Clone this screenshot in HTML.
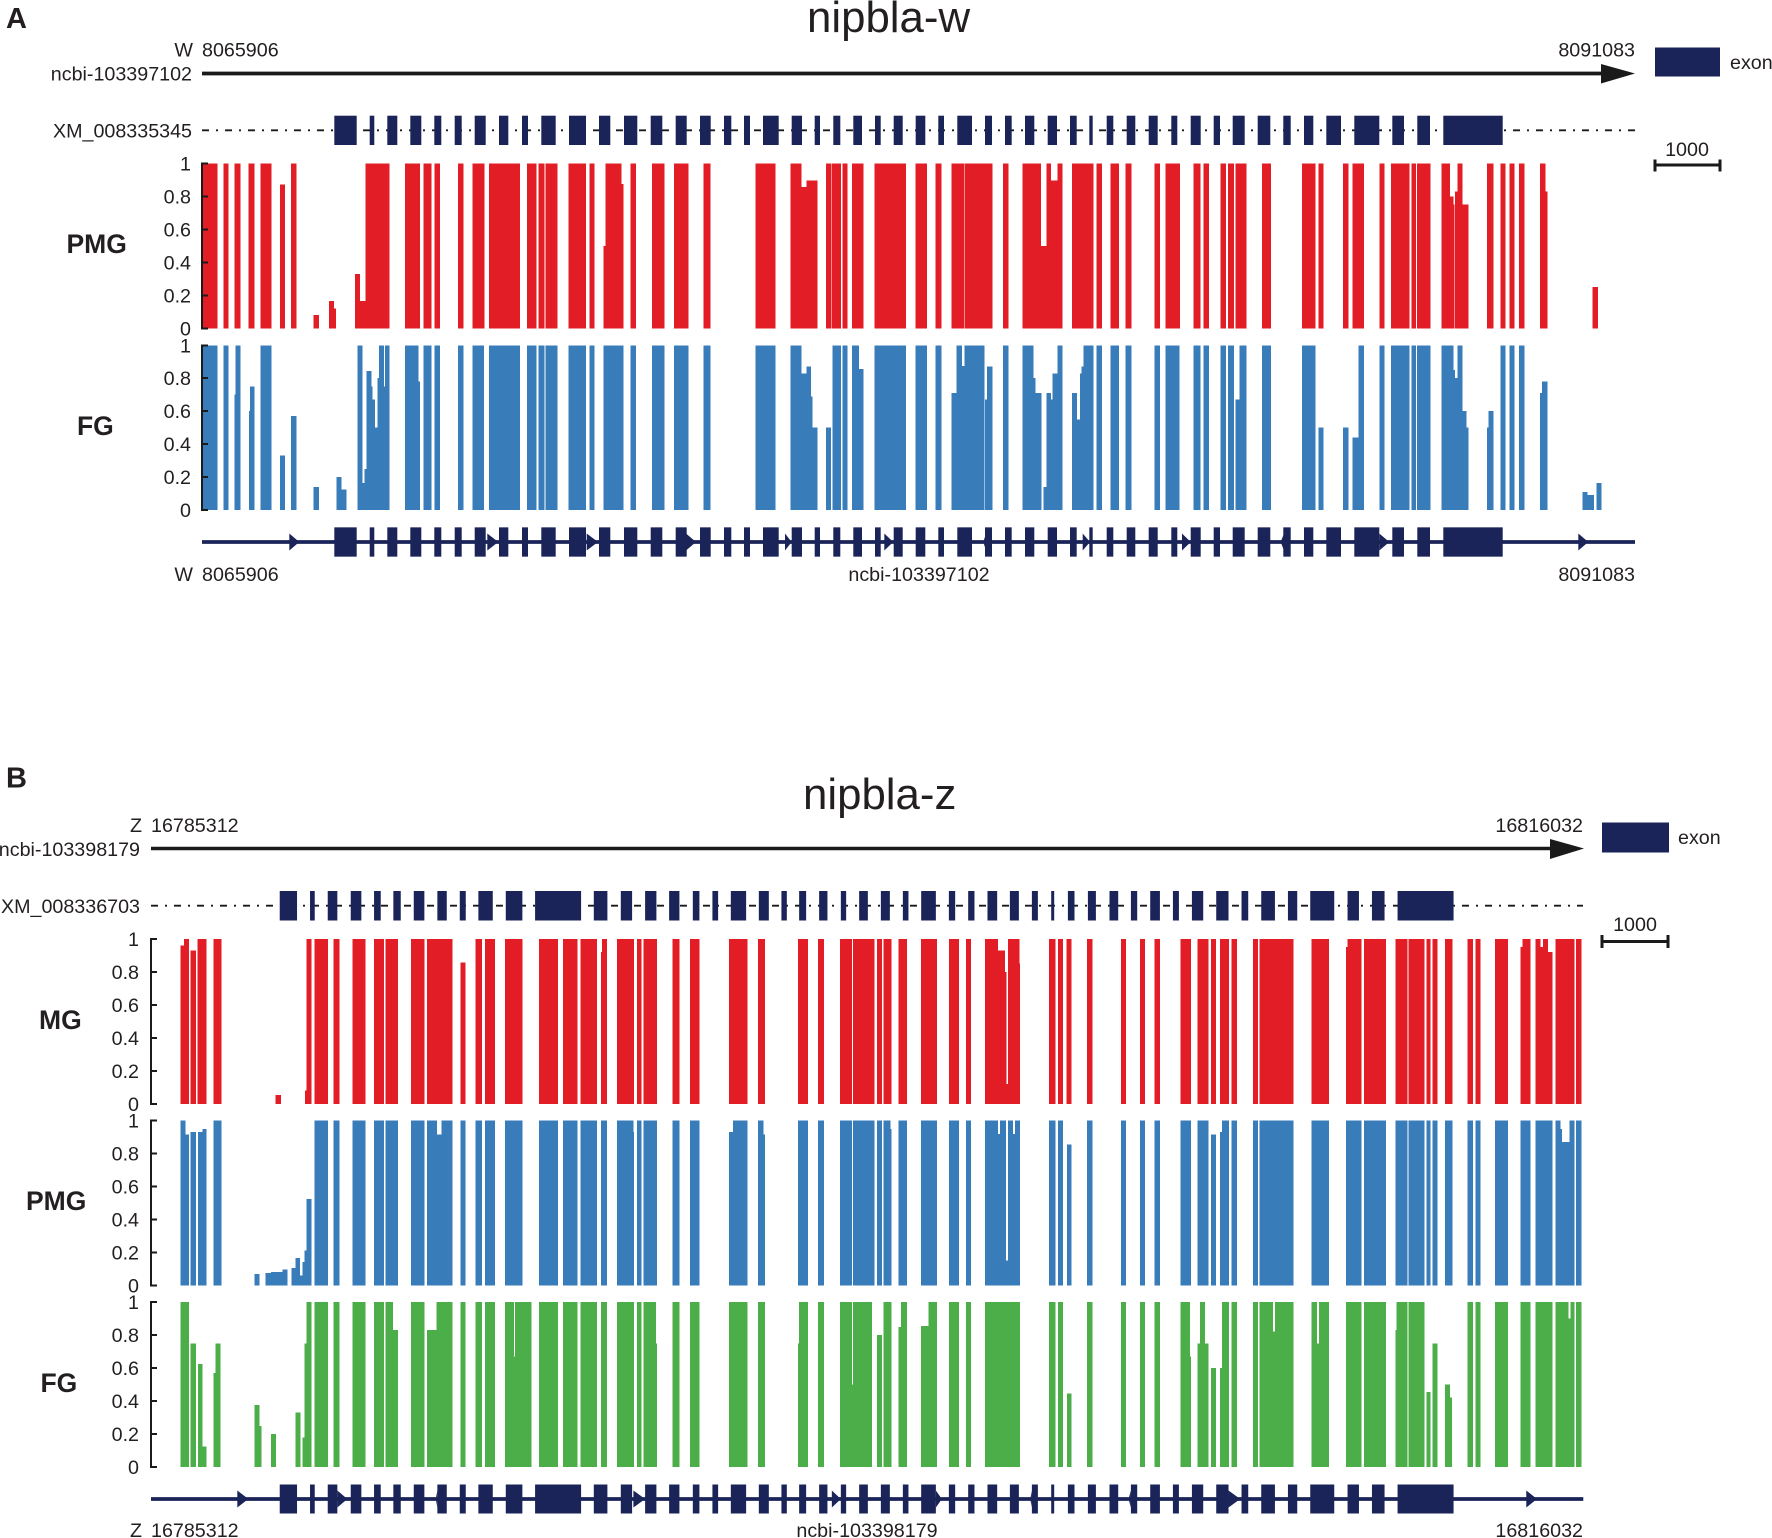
<!DOCTYPE html>
<html lang="en">
<head>
<meta charset="utf-8">
<title>nipbla-w and nipbla-z coverage</title>
<style>
html,body{margin:0;padding:0;background:#fff;width:1772px;height:1538px;overflow:hidden}
svg{display:block;font-family:"Liberation Sans",Arial,sans-serif;fill:#231f20}
.lab{font-size:19.7px}
.big{font-size:26.5px;font-weight:bold}
.letter{font-size:29px;font-weight:bold}
.title{font-size:43.8px}
</style>
</head>
<body>
<svg id="fig" xmlns="http://www.w3.org/2000/svg" width="1772" height="1538" viewBox="0 0 1772 1538">
  <rect width="1772" height="1538" fill="#fff"/>

  <!-- Panel A static parts -->
  <text x="6" y="28" class="letter">A</text>
  <text x="807" y="32" class="title">nipbla-w</text>
  <text x="193" y="56.5" class="lab" text-anchor="end">W</text>
  <text x="202" y="56.5" class="lab">8065906</text>
  <text x="1635" y="56.5" class="lab" text-anchor="end">8091083</text>
  <text x="192" y="80.5" class="lab" text-anchor="end">ncbi-103397102</text>
  <line x1="202" y1="73.5" x2="1605" y2="73.5" stroke="#1a1a1a" stroke-width="3.8"/>
  <polygon points="1601,64 1635,73.5 1601,83.5" fill="#1a1a1a"/>
  <rect x="1655" y="47.5" width="65" height="29" fill="#1b2459"/>
  <text x="1730" y="69" class="lab">exon</text>
  <text x="1687" y="156" class="lab" text-anchor="middle">1000</text>
  <path d="M1655,165H1720M1655,159.5V171.5M1720,159.5V171.5" stroke="#1a1a1a" stroke-width="3" fill="none"/>
  <text x="192" y="137.5" class="lab" text-anchor="end">XM_008335345</text>
  <line x1="202" y1="130.3" x2="1635" y2="130.3" stroke="#1a1a1a" stroke-width="1.8" stroke-dasharray="7 7 2 7"/>
  <text x="66.5" y="253" class="big">PMG</text>
  <text x="77" y="435" class="big">FG</text>
  <text x="193" y="581" class="lab" text-anchor="end">W</text>
  <text x="202" y="581" class="lab">8065906</text>
  <text x="919" y="581" class="lab" text-anchor="middle">ncbi-103397102</text>
  <text x="1635" y="581" class="lab" text-anchor="end">8091083</text>

  <!-- Panel B static parts -->
  <text x="6" y="787.5" class="letter">B</text>
  <text x="803" y="809" class="title">nipbla-z</text>
  <text x="142" y="832" class="lab" text-anchor="end">Z</text>
  <text x="151" y="832" class="lab">16785312</text>
  <text x="1583" y="832" class="lab" text-anchor="end">16816032</text>
  <text x="140" y="856" class="lab" text-anchor="end">ncbi-103398179</text>
  <line x1="151" y1="848.5" x2="1554" y2="848.5" stroke="#1a1a1a" stroke-width="3.6"/>
  <polygon points="1550,839 1584,848.5 1550,859" fill="#1a1a1a"/>
  <rect x="1602" y="822.5" width="67" height="30" fill="#1b2459"/>
  <text x="1678" y="844" class="lab">exon</text>
  <text x="1635" y="931" class="lab" text-anchor="middle">1000</text>
  <path d="M1602,941.5H1668M1602,935V948M1668,935V948" stroke="#1a1a1a" stroke-width="3" fill="none"/>
  <text x="140" y="913" class="lab" text-anchor="end">XM_008336703</text>
  <line x1="151" y1="905.7" x2="1583" y2="905.7" stroke="#1a1a1a" stroke-width="1.8" stroke-dasharray="7 7 2 7"/>
  <text x="39" y="1029" class="big">MG</text>
  <text x="26" y="1210" class="big">PMG</text>
  <text x="40.5" y="1392" class="big">FG</text>
  <text x="142" y="1537" class="lab" text-anchor="end">Z</text>
  <text x="151" y="1537" class="lab">16785312</text>
  <text x="867" y="1537" class="lab" text-anchor="middle">ncbi-103398179</text>
  <text x="1583" y="1537" class="lab" text-anchor="end">16816032</text>
</svg>
<script>
// Coverage values per track. Each entry: [start window, end window, fraction covered].
// Windows run along the gene from its first base (about 17.6 bp each in A, 21.5 bp in B).
const yTickLabels = ['0','0.2','0.4','0.6','0.8','1'];
const yTickValues = [0,0.2,0.4,0.6,0.8,1];

const pmgA = [[0,15.7,1],[21.7,26.7,1],[32.3,38.7,1],[46.3,52.7,1],[58.7,69.3,1],[78,83,.873],[89,94.3,1],[111.7,117,.08],[127,132,.165],[132,134,.12],[153,158,.33],[158,163.7,.165],[163.7,187.7,1],[203,218,1],[221.3,229.3,1],[232.3,238,1],[256,261.3,1],[270.3,282.3,1],[287,313,1],[313,318,1],[325,334.7,1],[336.3,342.3,1],[343.7,355.3,1],[366.3,384,1],[387.3,392.3,1],[401.3,403.3,.5],[403.3,419.7,1],[419.7,421.3,.875],[428.7,434,1],[450,462.3,1],[472,486.3,1],[501.3,508.3,1],[553.7,573.7,1],[588.7,599.7,1],[599.7,604.7,.855],[604.7,615.7,.897],[624,629,1],[629.7,639,1],[640.7,645.7,1],[650,661.7,1],[672.3,704,1],[713.3,725,1],[733.7,739.3,1],[749.3,762,1],[762.7,790.7,1],[801,806.3,1],[820.3,839,1],[839,844.7,.5],[844.7,849,1],[849,855.7,.895],[855.7,860.7,1],[870,891.7,1],[894.7,900,1],[908.7,917,1],[923.7,929.3,1],[952.7,958,1],[963.7,978,1],[991.3,998.3,1],[1001.7,1007,1],[1018.7,1024,1],[1026,1032,1],[1033.7,1044.7,1],[1060,1069,1],[1100,1113.7,1],[1116.3,1121.3,1],[1141,1146.3,1],[1150.7,1162,1],[1177.3,1182.7,1],[1189,1207.7,1],[1209.3,1214,1],[1215,1228.7,1],[1239.3,1248,1],[1248,1251.3,.8],[1251.3,1252.7,.75],[1253,1255.7,.83],[1255.7,1260.7,1],[1260.7,1266.3,.75],[1285,1291.7,1],[1298.3,1303.7,1],[1307.3,1312.7,1],[1317,1322.3,1],[1338,1343.3,1],[1343.3,1345.3,.83],[1390.7,1396,.25]];

const fgA = [[0,15.7,1],[21.7,26.7,1],[32.3,33.3,.7],[33.3,38.7,1],[47,48,.6],[48,52.3,.75],[58.7,69.3,1],[78,83,.33],[89,94.3,.57],[111.7,117,.14],[134.7,139.7,.2],[139.7,144.7,.125],[155.3,160.3,1],[160.3,162.3,.165],[162.3,164.3,.25],[164.3,169.3,.845],[169.3,170.7,.75],[170.7,173,.67],[173,175.7,.5],[175.7,177,.8],[177,182,1],[182,183,.75],[183,187.7,1],[203,216.3,1],[216.3,218,.78],[221.3,229.3,1],[232.3,238,1],[256,261.3,1],[270.3,282,1],[287,313,1],[313,318,1],[325,334.7,1],[336.3,342.3,1],[343.7,355.3,1],[366.3,384,1],[387.3,392.3,1],[401.3,421.3,1],[428.7,434,1],[450,462.3,1],[472,486.3,1],[501.3,508.3,1],[553.7,573.7,1],[588.7,599.7,1],[599.7,604.7,.83],[604.7,609,.87],[609,610.7,.69],[610.7,615.7,.5],[624,629,.5],[630.7,639,1],[640.7,645.7,1],[650,657,1],[657,661.7,.855],[672.3,704,1],[713.3,725,1],[733.7,739.3,1],[749.3,754.7,.71],[754.7,760,1],[760,762.7,.875],[762.7,782.3,1],[783,785,.67],[785,790.3,.87],[801,806.3,1],[820.3,831.3,1],[831.3,833.7,.8],[833.7,839.3,.71],[841.3,844.7,.14],[844.7,849,.71],[849,850.7,.67],[850.7,855.7,.83],[855.7,860.7,1],[870,875,.71],[875,878,.55],[878,879.3,.83],[879.3,881.7,.87],[881.7,891.7,1],[894.7,900,1],[908.7,917,1],[923.7,929.3,1],[952.7,958,1],[963.7,977.7,1],[991.3,998.3,1],[1001.7,1007,1],[1018.7,1024,1],[1026,1032,1],[1033.7,1037.3,.67],[1037.3,1044.7,1],[1060,1069,1],[1100,1113.7,1],[1116.3,1121.3,.5],[1141,1146.3,.5],[1150.7,1156.7,.44],[1156.7,1162,1],[1177.3,1182.7,1],[1189,1207.7,1],[1209.3,1214,1],[1215,1228.7,1],[1239.3,1251.3,1],[1251.3,1253,.85],[1253,1255.7,.8],[1255.7,1260.7,1],[1260.7,1264.7,.6],[1264.7,1266.3,.5],[1285,1286.7,.5],[1286.7,1291.7,.6],[1298.3,1303.7,1],[1307.3,1312.7,1],[1317,1322.3,1],[1338,1340,.71],[1340,1345.3,.78],[1380.3,1385.7,.11],[1385.7,1392,.09],[1394.7,1399.7,.165]];

const exonsA = [[132.3,154.7],[167.7,172.3],[185.3,195.3],[208.3,219.3],[232.3,239.3],[252.7,259.7],[272.7,283.7],[297,306.3],[320,326],[339.3,353.7],[367,384],[397,408.3],[422,435.3],[448.7,460.3],[473.7,484.7],[498,508.7],[522,529.3],[542,548],[561,576.7],[589.7,600],[612.7,618],[631.3,638.3],[651.3,660],[673,678.7],[691.7,700.7],[713.7,723.3],[736.3,742],[755.3,770],[783,790],[803,809.7],[823,832.3],[845.7,855],[868,874.7],[887.3,890.7],[904.7,911.3],[924.7,933.3],[946.7,955.7],[969.3,975.3],[988.7,998.7],[1011.7,1018],[1030.7,1042.7],[1055.7,1068.3],[1081.3,1088.7],[1102,1111.3],[1124.3,1139],[1152.3,1177.3],[1190.3,1202],[1215.3,1228],[1241.3,1300.7]];

const strandMarksA = [[87.3,97.3],[285.3,296.3],[384.7,396],[484,494],[583,589.7],[682.3,691.3],[784,781.3],[880.7,888],[980,988.7],[1082,1078.7],[1177.3,1187.3],[1376.3,1386.3]];

const mgB = [[29.7,33,.96],[33,38,1],[39.7,45,.93],[46.7,55.7,1],[62.7,70.3,1],[124.7,130,.055],[154,155.7,.08],[155.7,160.3,1],[163.7,177,1],[182.7,188.3,1],[201.3,214.3,1],[223,233,1],[234.3,247,1],[260,273.3,1],[276,301.3,1],[309.3,314.3,.855],[324.3,330.7,1],[333.7,343.7,1],[354,371.3,1],[388,407,1],[412,426.3,1],[429.3,445.7,1],[450,451,.92],[451,455.7,1],[465.7,483,1],[485.7,490.3,1],[492.3,506,1],[521.3,528.3,1],[539,548.3,1],[578,596.3,1],[607,614,1],[647,656.7,1],[667,672.7,1],[689,700.7,1],[701.7,723.3,1],[726,731,1],[732.3,740.3,1],[747.3,755.7,1],[769.7,785.7,1],[798,807.7,1],[815,820,1],[834,847,1],[847,853.7,.93],[853.7,855.3,.8],[855.3,856.7,.12],[856.7,868.3,1],[868.3,869,.85],[897.7,904.3,1],[907,911.7,1],[915.3,920.3,1],[935.7,941.3,1],[969.7,974.7,1],[988.7,993.7,1],[1003.3,1008.7,1],[1029.3,1040,1],[1046.3,1057.3,1],[1059.7,1064.7,1],[1069,1078,1],[1080.3,1085.7,1],[1102,1107,1],[1108.3,1142.3,1],[1160.3,1177.7,1],[1194.7,1196.3,.95],[1196.3,1210.3,1],[1212.7,1234.7,1],[1244,1256.3,1],[1257,1273,1],[1275,1279.3,1],[1281,1286,1],[1293.7,1301,1],[1316.3,1321.7,1],[1324,1329,1],[1343.7,1356.7,1],[1369.3,1371,.95],[1371,1379.3,1],[1384.3,1389,1],[1389,1391.7,.95],[1391.7,1396.7,1],[1396.7,1401.3,.92],[1404,1423.3,1],[1424.7,1430.3,1]];

const pmgB = [[29.7,34.7,1],[34.7,38,.915],[39.7,45,.93],[47,51.3,.93],[51.3,55.7,.95],[62.7,70.3,1],[103.7,108.7,.07],[114.7,120,.075],[120,131.7,.08],[131.7,136.7,.095],[140.3,144.3,.105],[144.3,149,.165],[149,151.3,.06],[151.3,153.3,.14],[153.3,155.3,.21],[155.3,160.3,.525],[163.7,177,1],[182.7,188.3,1],[201.3,214.3,1],[223,233,1],[234.3,247,1],[260,273.3,1],[276,286,1],[286,290.3,.915],[290.3,301.3,1],[309.3,314.3,1],[324.3,330.7,1],[333.7,343.7,1],[354,371.3,1],[388,407,1],[412,426.3,1],[429.3,445.7,1],[450,455.7,1],[465.7,482.3,1],[482.3,483,.93],[485.7,490.3,1],[492.3,506,1],[521.3,528.3,1],[539,548.3,1],[578,582,.93],[582,596.3,1],[607,612.3,1],[612.3,614,.915],[647,656.7,1],[667,672.7,1],[689,700.7,1],[701.7,723.3,1],[726,731,1],[732.3,739.3,1],[739.3,740.3,.95],[747.3,755.7,1],[769.7,785.7,1],[798,807.7,1],[815,820,1],[834,847,1],[847,849,.92],[849,854.7,1],[854.7,857,.15],[857,861.7,1],[861.7,864,.92],[864,869,1],[897.7,904.3,1],[907,911.7,1],[915.7,920.3,.855],[935.7,941.3,1],[969.7,974.7,1],[988.7,993.7,1],[1003.3,1008.7,1],[1029.3,1040,1],[1046.3,1057.3,1],[1059.7,1064.7,.915],[1069,1070.7,.93],[1070.7,1078,1],[1080.3,1085.7,1],[1102,1107,1],[1108.3,1142.3,1],[1160.3,1177.7,1],[1194.7,1210.3,1],[1212.7,1234.7,1],[1244,1256.3,1],[1257,1273,1],[1275,1279.3,1],[1281,1286,1],[1293.7,1301,1],[1316.3,1321.7,1],[1324,1329,1],[1343.7,1356.7,1],[1369.3,1379.3,1],[1384.3,1401.3,1],[1404,1409,1],[1409,1410.7,.95],[1410.7,1418.3,.87],[1418.3,1423.3,1],[1424.7,1430.3,1]];

const fgB = [[29.7,38,1],[39.7,45,.75],[47,51.7,.625],[51.7,55.7,.125],[62.7,64.7,.57],[64.7,69.7,.75],[103.7,108.7,.375],[108.7,110.7,.25],[120,125,.2],[144.3,149.3,.33],[151.7,153.7,.18],[153.7,155.7,.75],[155.7,160.3,1],[163.7,177,1],[182.7,188.3,1],[201.3,214.3,1],[223,233,1],[234.3,241.7,1],[241.7,247,.83],[260,273.3,1],[276,285.3,.83],[285.3,301.3,1],[309.3,314.3,1],[324.3,330.7,1],[333.7,343.7,1],[354,362.7,1],[362.7,364,.67],[364,380.3,1],[388,407,1],[412,426.3,1],[429.3,445.7,1],[450,455.7,1],[465.7,483,1],[485.7,490.3,1],[492.3,505,1],[505,506,.75],[521.3,528.3,1],[539,548.3,1],[578,596.3,1],[607,614,1],[647,648,.75],[648,656.7,1],[667,672.7,1],[689,700.7,1],[700.7,702,.5],[702,720.7,1],[726,731,.8],[732.3,740.3,1],[747.3,749.7,.85],[749.7,755.7,1],[769.7,777.3,.855],[777.3,785.7,1],[798,807.7,1],[815,820,1],[834,869,1],[897.7,904.3,1],[907,911.7,1],[915.7,920.3,.445],[935.7,941.3,1],[969.7,974.7,1],[988.7,993.7,1],[1003.3,1008.7,1],[1029.3,1038.7,1],[1038.7,1040,.67],[1046.3,1048.7,.75],[1048.7,1053.7,1],[1053.7,1057.3,.75],[1059.7,1064.7,.6],[1069,1070.7,.6],[1070.7,1078,1],[1080.3,1085.7,1],[1102,1107,1],[1108.3,1122,1],[1122,1123.7,.82],[1123.7,1142.3,1],[1160.3,1166,1],[1166,1168,.75],[1168,1177.7,1],[1194.7,1210.3,1],[1212.7,1234.7,1],[1244,1245,.83],[1245,1256.3,1],[1257,1273,1],[1275,1279.3,.455],[1281,1286,.75],[1293.7,1298.7,.5],[1298.7,1300.7,.42],[1316.3,1321.7,1],[1324,1329,1],[1343.7,1356.7,1],[1369.3,1379.3,1],[1384.3,1401.3,1],[1404,1417.3,1],[1417.3,1419,.9],[1419,1423.3,1],[1424.7,1430.3,1]];

const exonsB = [[128.7,146],[159,163.7],[176.7,186.3],[199.7,210.3],[223,229.7],[242.3,249.7],[262.7,273.3],[286.3,295.7],[308.7,314.7],[327.3,341.7],[354.7,371.3],[384,430],[442.7,456.3],[469.7,481],[494,505.3],[518,528.3],[541.7,548.3],[561.3,567],[579.7,595],[607.7,617.7],[630.3,635.7],[648,655],[668,676.3],[689.7,695],[708,716.7],[729.7,738.7],[751.7,757.3],[770,784.7],[797.7,804],[817,823.3],[836.3,846],[858.7,867.7],[880.7,886.7],[900,903],[916.7,923.3],[936.7,944.7],[958.3,967],[979.7,986],[999,1008.7],[1021.7,1027.7],[1040.7,1052],[1065,1077.3],[1090.3,1097],[1110,1123.7],[1136.7,1146],[1159,1183],[1196.3,1207.7],[1220.7,1233.3],[1246.3,1302.3]];

const strandMarksB = [[86.3,97.3],[186.3,196.3],[286.3,284.7],[482.3,494],[680.7,689.7],[784.7,790.7],[880.7,879],[979.7,977.3],[1077.3,1089],[1375,1385.7]];

const SVGNS = 'http://www.w3.org/2000/svg';
const fig = document.getElementById('fig');

function makeX(x0, x1, windows) {
  return function (w) { return x0 + w * (x1 - x0) / windows; };
}
function makeY(top, bottom) {
  return function (v) { return bottom - v * (bottom - top); };
}
function newEl(tag, parent) {
  const el = document.createElementNS(SVGNS, tag);
  parent.appendChild(el);
  return el;
}

function drawTrack(prefix, segs, color, xScale, yScale, axisX, labelX) {
  const g = newEl('g', fig);
  
  
  g.setAttribute('shape-rendering', 'crispEdges');
  segs.forEach(function (s) {
    const r = newEl('rect', g);
    
    
    r.setAttribute('x', xScale(s[0]));
    r.setAttribute('y', yScale(s[2]));
    r.setAttribute('width', xScale(s[1]) - xScale(s[0]));
    r.setAttribute('height', yScale(0) - yScale(s[2]));
    r.setAttribute('fill', color);
  });
  const axis = newEl('line', g);
  
  
  axis.setAttribute('x1', axisX);
  axis.setAttribute('x2', axisX);
  axis.setAttribute('y1', yScale(1) - 1);
  axis.setAttribute('y2', yScale(0) + 1);
  axis.setAttribute('stroke', '#1a1a1a');
  axis.setAttribute('stroke-width', 2);
  yTickValues.forEach(function (v, i) {
    const t = newEl('line', g);
    
    
    t.setAttribute('x1', axisX);
    t.setAttribute('x2', axisX + 6);
    t.setAttribute('y1', yScale(v));
    t.setAttribute('y2', yScale(v));
    t.setAttribute('stroke', '#1a1a1a');
    t.setAttribute('stroke-width', 2);
    const l = newEl('text', g);
    
    
    l.setAttribute('x', labelX);
    l.setAttribute('y', yScale(v) + 7);
    l.setAttribute('class', 'lab');
    l.setAttribute('text-anchor', 'end');
    l.textContent = yTickLabels[i];
  });
}

function drawExonRow(prefix, exons, xScale, top, height) {
  const g = newEl('g', fig);
  
  
  exons.forEach(function (e) {
    const r = newEl('rect', g);
    
    
    r.setAttribute('x', xScale(e[0]));
    r.setAttribute('y', top);
    r.setAttribute('width', xScale(e[1]) - xScale(e[0]));
    r.setAttribute('height', height);
    r.setAttribute('fill', '#1b2459');
  });
}

function drawGeneModel(prefix, exons, marks, xScale, windows, midY, height) {
  const line = newEl('line', fig);
  
  
  line.setAttribute('x1', xScale(0));
  line.setAttribute('x2', xScale(windows));
  line.setAttribute('y1', midY);
  line.setAttribute('y2', midY);
  line.setAttribute('stroke', '#1b2459');
  line.setAttribute('stroke-width', 3.8);
  drawExonRow(prefix, exons, xScale, midY - height / 2, height);
  marks.forEach(function (m) {
    const p = newEl('polygon', fig);
    
    
    p.setAttribute('points', xScale(m[0]) + ',' + (midY - 8.5) + ' ' + xScale(m[1]) + ',' + midY + ' ' + xScale(m[0]) + ',' + (midY + 8.5));
    p.setAttribute('fill', '#1b2459');
  });
}

const RED = '#e31d25', BLUE = '#387cba', GREEN = '#4cae49';
const WINDOWS_A = 1433, WINDOWS_B = 1432;
const xA = makeX(202, 1635, WINDOWS_A);
const xB = makeX(151, 1583.3, WINDOWS_B);

drawExonRow('panel-a-transcript', exonsA, xA, 115.7, 29.3);
drawTrack('panel-a-pmg', pmgA, RED, xA, makeY(163.3, 328.3), 202, 191);
drawTrack('panel-a-fg', fgA, BLUE, xA, makeY(345.3, 510), 202, 191);
drawGeneModel('panel-a-gene-model', exonsA, strandMarksA, xA, WINDOWS_A, 542, 29.3);

drawExonRow('panel-b-transcript', exonsB, xB, 891, 29.5);
drawTrack('panel-b-mg', mgB, RED, xB, makeY(938.8, 1103.9), 151, 139);
drawTrack('panel-b-pmg', pmgB, BLUE, xB, makeY(1120.6, 1285.3), 151, 139);
drawTrack('panel-b-fg', fgB, GREEN, xB, makeY(1302, 1467), 151, 139);
drawGeneModel('panel-b-gene-model', exonsB, strandMarksB, xB, WINDOWS_B, 1499, 29);
</script>
</body>
</html>
